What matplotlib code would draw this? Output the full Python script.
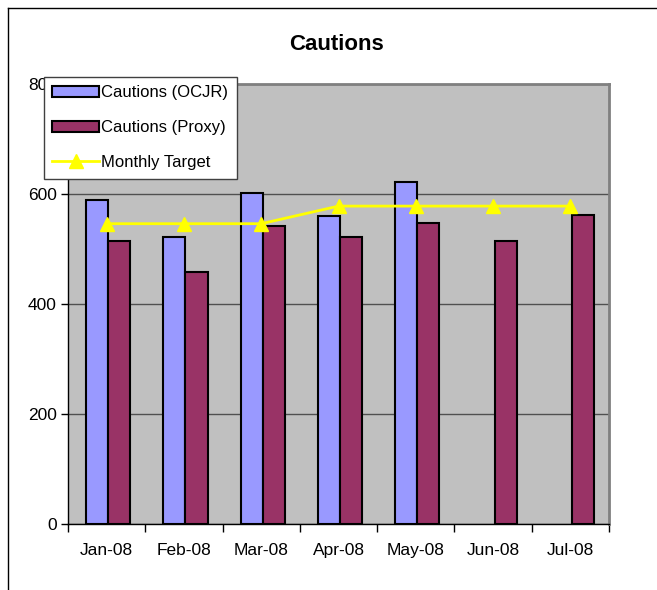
import matplotlib
matplotlib.use("Agg")
import matplotlib.pyplot as plt
import numpy as np
from matplotlib.lines import Line2D

plt.rcParams['font.family'] = ['Liberation Sans', 'DejaVu Sans']

months = ["Jan-08", "Feb-08", "Mar-08", "Apr-08", "May-08", "Jun-08", "Jul-08"]
ocjr = [589, 522, 601, 560, 622, np.nan, np.nan]
proxy = [515, 459, 541, 521, 547, 515, 561]
target = [546, 546, 546, 578, 578, 578, 578]

fig = plt.figure(figsize=(6.57, 5.90), dpi=100)
ax = fig.add_axes([68/657, 1-524/590, (609-68)/657, (524-84)/590])
ax.set_facecolor("#C0C0C0")

x = np.arange(len(months))
w = 0.285
b1 = ax.bar(x - w/2 + 0.02, ocjr, width=w, color="#9999FF", edgecolor="black", linewidth=1.5,
            label="Cautions (OCJR)", zorder=3)
b2 = ax.bar(x + w/2 + 0.02, proxy, width=w, color="#993366", edgecolor="black", linewidth=1.5,
            label="Cautions (Proxy)", zorder=3)
l1, = ax.plot(x, target, color="#FFFF00", linewidth=2, marker="^", markersize=10,
              label="Monthly Target", zorder=4)

ax.set_xlim(-0.5, len(months) - 0.5)
ax.set_ylim(0, 800)
ax.set_yticks([0, 200, 400, 600, 800])
ax.set_yticklabels(["0", "200", "400", "600", "800"], fontsize=12.5)
ax.yaxis.grid(True, color="#505050", linewidth=1, zorder=1)
ax.set_axisbelow(True)

ax.set_xticks(x)
ax.set_xticklabels(months, fontsize=12.5)
ax.tick_params(axis="x", length=0, pad=14)
ax.set_xticks(np.arange(-0.5, len(months)), minor=True)
ax.tick_params(axis="x", which="minor", length=6, width=1, direction="out", color="black")
ax.tick_params(axis="y", length=5, width=1, direction="out", color="black", pad=3)

for s in ["top", "right"]:
    ax.spines[s].set_color("#808080")
    ax.spines[s].set_linewidth(2)
for s in ["left", "bottom"]:
    ax.spines[s].set_color("black")
    ax.spines[s].set_linewidth(1)

fig.text(337/657, 1-44/590, "Cautions", ha="center", va="center", fontsize=16, fontweight="bold")

leg = fig.legend([b1, b2, l1], ["Cautions (OCJR)", "Cautions (Proxy)", "Monthly Target"],
                 loc="upper left", bbox_to_anchor=(44/657, 1-77/590),
                 fontsize=12, frameon=True, fancybox=False, borderpad=0.5,
                 labelspacing=1.2, handlelength=2.8, handletextpad=0.15, borderaxespad=0,
                 framealpha=1, facecolor="white")
leg.get_frame().set_edgecolor("#404040")
leg.get_frame().set_linewidth(1)
leg.set_zorder(10)

# outer chart border
fig.add_artist(Line2D([8/657, 8/657], [0, 1-8/590], color="black", linewidth=1, transform=fig.transFigure))
fig.add_artist(Line2D([8/657, 1], [1-8/590, 1-8/590], color="black", linewidth=1, transform=fig.transFigure))

fig.savefig("out.png", dpi=100)
